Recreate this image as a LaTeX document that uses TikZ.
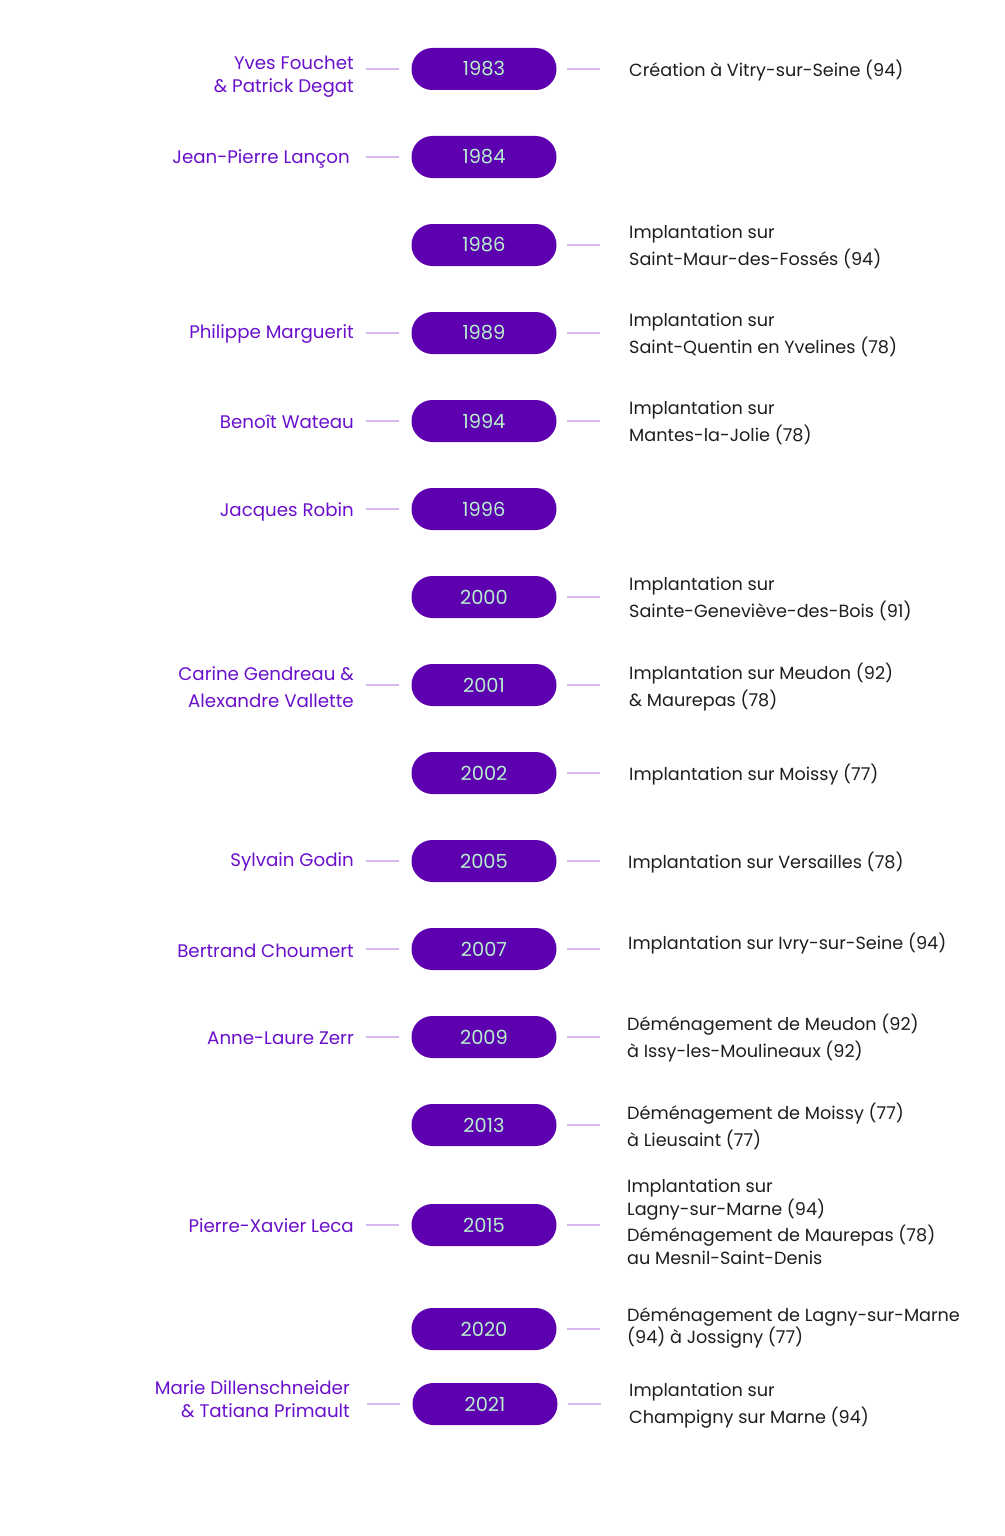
\documentclass[tikz,border=0pt]{standalone}
\usepackage{fontspec}
\setmainfont{Poppins}
\usepackage{tikz}
\usetikzlibrary{positioning}

\definecolor{pillfill}{HTML}{5C00B0}
\definecolor{yeartext}{HTML}{B8F0CC}
\definecolor{namecol}{HTML}{6A10CC}
\definecolor{stubcol}{HTML}{D8B8F0}
\definecolor{textcol}{HTML}{1E1E1E}

\begin{document}
\begin{tikzpicture}[
  x=1bp, y=-1bp,
  year/.style={rectangle, rounded corners=20.9bp, fill=pillfill, text=yeartext,
    minimum width=145bp, minimum height=42bp, inner sep=0pt, font=\fontsize{19.5}{22}\selectfont},
  who/.style={anchor=east, align=right, text=namecol, inner sep=0pt,
    font=\fontsize{18.3}{23}\selectfont},
  what/.style={anchor=west, align=left, text=textcol, inner sep=0pt,
    font=\fontsize{17.7}{27}\selectfont},
  stub/.style={draw=stubcol, line width=1.1bp}
]
\useasboundingbox[fill=white] (0,0) rectangle (1004,1536);

% year pills
\node[year] (y83) at (484,69) {1983};
\node[year] (y84) at (484,157) {1984};
\node[year] (y86) at (484,245) {1986};
\node[year] (y89) at (484,333) {1989};
\node[year] (y94) at (484,421) {1994};
\node[year] (y96) at (484,509) {1996};
\node[year] (y00) at (484,597) {2000};
\node[year] (y01) at (484,685) {2001};
\node[year] (y02) at (484,773) {2002};
\node[year] (y05) at (484,861) {2005};
\node[year] (y07) at (484,949) {2007};
\node[year] (y09) at (484,1037) {2009};
\node[year] (y13) at (484,1125) {2013};
\node[year] (y15) at (484,1225) {2015};
\node[year] (y20) at (484,1329) {2020};
\node[year] (y21) at (485,1404) {2021};

% names
\node[who] (n83) at (354,77) {Yves Fouchet\\\& Patrick Degat};
\node[who] (n84) at (350,159) {Jean-Pierre Lançon};
\node[who] (n89) at (354,334) {Philippe Marguerit};
\node[who] (n94) at (354,422) {Benoît Wateau};
\node[who] (n96) at (354,512) {Jacques Robin};
\node[who] (n01) at (354,687) {Carine Gendreau \&\\[4bp]Alexandre Vallette};
\node[who] (n05) at (354,862) {Sylvain Godin};
\node[who] (n07) at (354,951) {Bertrand Choumert};
\node[who] (n09) at (354,1038) {Anne-Laure Zerr};
\node[who] (n15) at (354,1226) {Pierre-Xavier Leca};
\node[who] (n21) at (350,1399) {Marie Dillenschneider\\\& Tatiana Primault};

% events
\node[what] (t83) at (629,71) {Création à Vitry-sur-Seine (94)};
\node[what] (t86) at (629,247) {Implantation sur\\Saint-Maur-des-Fossés (94)};
\node[what] (t89) at (629,335) {Implantation sur\\Saint-Quentin en Yvelines (78)};
\node[what] (t94) at (629,423) {Implantation sur\\Mantes-la-Jolie (78)};
\node[what] (t00) at (629,599) {Implantation sur\\Sainte-Geneviève-des-Bois (91)};
\node[what] (t01) at (629,687) {Implantation sur Meudon (92)\\\& Maurepas (78)};
\node[what] (t02) at (629,775) {Implantation sur Moissy (77)};
\node[what] (t05) at (628,863) {Implantation sur Versailles (78)};
\node[what] (t07) at (628,944) {Implantation sur Ivry-sur-Seine (94)};
\node[what] (t09) at (627,1038) {Déménagement de Meudon (92)\\à Issy-les-Moulineaux (92)};
\node[what] (t13) at (627,1126) {Déménagement de Moissy (77)\\à Lieusaint (77)};
\node[what,font=\fontsize{17.7}{23}\selectfont] (t15) at (627,1222)
  {Implantation sur\\Lagny-sur-Marne (94)\\[3bp]Déménagement de Maurepas (78)\\au Mesnil-Saint-Denis};
\node[what,font=\fontsize{17.7}{23}\selectfont] (t20) at (627,1328)
  {Déménagement de Lagny-sur-Marne\\(94) à Jossigny (77)};
\node[what] (t21) at (629,1406) {Implantation sur\\Champigny sur Marne (94)};

% left stubs
\foreach \y in {y83,y84,y89,y94,y96,y01,y05,y07,y09,y15,y21}
  \draw[stub] (\y.west) ++(-12,0) -- ++(-33,0);
% right stubs
\foreach \y in {y83,y86,y89,y94,y00,y01,y02,y05,y07,y09,y13,y15,y20,y21}
  \draw[stub] (\y.east) ++(10,0) -- ++(33,0);
\end{tikzpicture}
\end{document}
